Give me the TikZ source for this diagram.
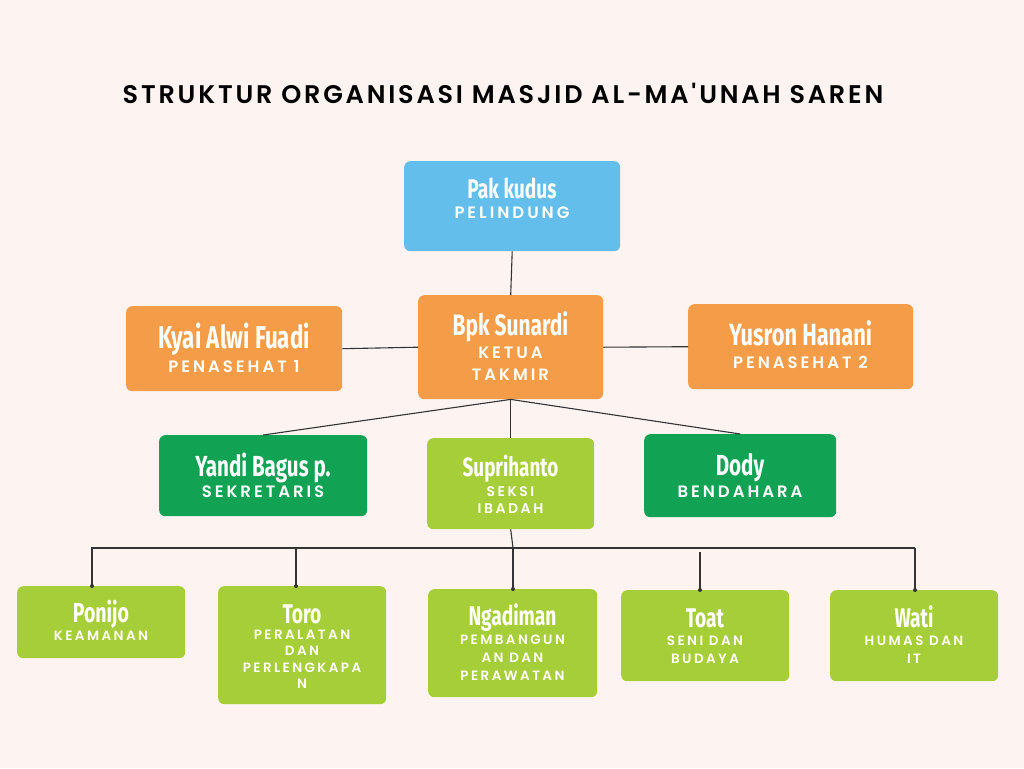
\documentclass[tikz,border=0pt]{standalone}
\usepackage{fontspec}
\setmainfont{Poppins}
\newfontfamily\namefont[FakeStretch=0.71]{Fira Sans}
\newfontfamily\rolefont[LetterSpace=18]{Poppins SemiBold}
\newfontfamily\titlefont[LetterSpace=11]{Poppins SemiBold}
\definecolor{bg}{HTML}{FDF4F2}
\definecolor{cblue}{HTML}{64BEEC}
\definecolor{corange}{HTML}{F49C48}
\definecolor{cdgreen}{HTML}{12A253}
\definecolor{clime}{HTML}{A6CE38}
\definecolor{cline}{HTML}{333333}
\tikzset{
  box/.style={anchor=north west, inner sep=0pt, rounded corners=6pt, draw=none},
  nm/.style={anchor=base, text=white, inner sep=0pt, font=\namefont\bfseries\fontsize{#1}{#1}\selectfont},
  rl/.style={anchor=base, text=white, inner sep=0pt, font=\rolefont\fontsize{#1}{#1}\selectfont},
  conn/.style={draw=cline, line width=1.1pt},
  dot/.style={circle, fill=cline, inner sep=0pt, minimum size=4pt}
}
\begin{document}
\begin{tikzpicture}[x=1pt,y=-1pt]
\fill[bg] (0,0) rectangle (1024,768);
\useasboundingbox (0,0) rectangle (1024,768);
\node[anchor=base, inner sep=0pt, text=black, font=\titlefont\fontsize{25.5}{25.5}\selectfont] (title) at (503,103) {STRUKTUR ORGANISASI MASJID AL-MA'UNAH SAREN};
% boxes
\node[box, fill=cblue, minimum width=216pt, minimum height=90pt] (pak) at (404,161) {};
\node[box, fill=corange, minimum width=185pt, minimum height=104pt] (sun) at (418,295) {};
\node[box, fill=corange, minimum width=216pt, minimum height=85pt] (kyai) at (126,306) {};
\node[box, fill=corange, minimum width=225pt, minimum height=85pt] (yus) at (688,304) {};
\node[box, fill=cdgreen, minimum width=208pt, minimum height=81pt] (yan) at (159,435) {};
\node[box, fill=clime, minimum width=167pt, minimum height=91pt] (sup) at (427,438) {};
\node[box, fill=cdgreen, minimum width=192pt, minimum height=83pt] (dod) at (644,434) {};
\node[box, fill=clime, minimum width=168pt, minimum height=72pt] (pon) at (17,586) {};
\node[box, fill=clime, minimum width=168pt, minimum height=118pt] (tor) at (218,586) {};
\node[box, fill=clime, minimum width=169pt, minimum height=108pt] (nga) at (428,589) {};
\node[box, fill=clime, minimum width=168pt, minimum height=91pt] (toa) at (621,590) {};
\node[box, fill=clime, minimum width=168pt, minimum height=91pt] (wat) at (830,590) {};
% texts
\node[nm=27] (t-pak) at (512,198) {Pak kudus};
\node[rl=16.5] (r-pak) at (512,218) {PELINDUNG};
\node[nm=29.5] (t-sun) at (510.5,335) {Bpk Sunardi};
\node[rl=16.5] (r-sun1) at (510.5,358) {KETUA};
\node[rl=16.5] (r-sun2) at (510.5,380) {TAKMIR};
\node[nm=31.5] (t-kyai) at (234,348) {Kyai Alwi Fuadi};
\node[rl=16.5] (r-kyai) at (234,372) {PENASEHAT 1};
\node[nm=30.7] (t-yus) at (800.5,345) {Yusron Hanani};
\node[rl=16.5] (r-yus) at (800.5,368) {PENASEHAT 2};
\node[nm=29] (t-yan) at (263,476) {Yandi Bagus p.};
\node[rl=16.5] (r-yan) at (263,497) {SEKRETARIS};
\node[nm=26.5] (t-sup) at (510.5,476) {Suprihanto};
\node[rl=14] (r-sup1) at (510.5,496) {SEKSI};
\node[rl=14] (r-sup2) at (510.5,513) {IBADAH};
\node[nm=29] (t-dod) at (740,475) {Dody};
\node[rl=16.5] (r-dod) at (740,497) {BENDAHARA};
\node[nm=27.5] (t-pon) at (101,622) {Ponijo};
\node[rl=13.5] (r-pon) at (101,640) {KEAMANAN};
\node[nm=27] (t-tor) at (302,623) {Toro};
\node[rl=13.5] (r-tor1) at (302,639) {PERALATAN};
\node[rl=13.5] (r-tor2) at (302,655) {DAN};
\node[rl=13.5] (r-tor3) at (302,672) {PERLENGKAPA};
\node[rl=13.5] (r-tor4) at (302,688) {N};
\node[nm=27] (t-nga) at (512.5,625) {Ngadiman};
\node[rl=13.5] (r-nga1) at (512.5,644) {PEMBANGUN};
\node[rl=13.5] (r-nga2) at (512.5,662) {AN DAN};
\node[rl=13.5] (r-nga3) at (512.5,680) {PERAWATAN};
\node[nm=27] (t-toa) at (705,627) {Toat};
\node[rl=13.5] (r-toa1) at (705,645) {SENI DAN};
\node[rl=13.5] (r-toa2) at (705,663) {BUDAYA};
\node[nm=27] (t-wat) at (914,627) {Wati};
\node[rl=13.5] (r-wat1) at (914,645) {HUMAS DAN};
\node[rl=13.5] (r-wat2) at (914,663) {IT};
% connectors
\draw[conn] (pak.south) -- (sun.north);
\draw[conn] (kyai.east) -- (sun.west);
\draw[conn] (sun.east) -- (yus.west);
\draw[conn] (sun.south) -- (yan.north);
\draw[conn] (sun.south) -- (sup.north);
\draw[conn] (sun.south) -- (dod.north);
\coordinate (hl) at (91,548);
\coordinate (hr) at (915,548);
\coordinate (d1) at (92,548);
\coordinate (d2) at (296,548);
\coordinate (d3) at (513,548);
\coordinate (d4) at (700,552);
\coordinate (d5) at (915,548);
\draw[conn] (hl) -- (hr);
\draw[conn] (sup.south) -- (d3);
\draw[conn] (d1) -- (d1 |- pon.north) node[dot] {};
\draw[conn] (d2) -- (d2 |- tor.north) node[dot] {};
\draw[conn] (d3) -- (d3 |- nga.north) node[dot] {};
\draw[conn] (d4) -- (d4 |- toa.north) node[dot] {};
\draw[conn] (d5) -- (d5 |- wat.north) node[dot] {};
\end{tikzpicture}
\end{document}
